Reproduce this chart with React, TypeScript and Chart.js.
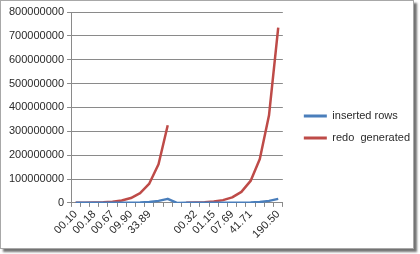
import React, { useEffect, useRef } from 'react';
import { Chart, registerables } from 'chart.js';

Chart.register(...registerables);

// ---- data ----
const categories: string[] = [
  '00.10', '', '00.18', '', '00.67', '', '09.90', '', '33.89', '', '',
  '',
  '', '00.32', '', '01.15', '', '07.69', '', '41.71', '', '', '190.50',
];

const insertedRows: (number | null)[] = [
  16384, 32768, 65536, 131072, 262144, 524288, 1048576, 2097152, 4194304, 8388608, 16777216,
  0,
  16384, 32768, 65536, 131072, 262144, 524288, 1048576, 2097152, 4194304, 8388608, 16777216,
];

const redoGenerated: (number | null)[] = [
  300000, 650000, 1300000, 2500000, 5100000, 10200000, 20300000, 40600000, 81000000, 162000000, 325000000,
  null,
  720000, 1440000, 2900000, 5700000, 11500000, 23000000, 46000000, 92000000, 184000000, 367000000, 735000000,
];

const seriesNames = ['inserted rows', 'redo  generated'];
const seriesColors = ['#4A7EBB', '#BE4B48'];

const yMin = 0;
const yMax = 800000000;
const yStep = 100000000;

export default function App() {
  const canvasRef = useRef<HTMLCanvasElement | null>(null);

  useEffect(() => {
    const canvas = canvasRef.current;
    if (!canvas) return;
    const font = { family: '"Liberation Sans", Arial, sans-serif', size: 11 };
    const textColor = '#2a2a2a';
    const gridColor = '#8a8a8a';

    const chart = new Chart(canvas, {
      type: 'line',
      data: {
        labels: categories,
        datasets: [
          {
            label: seriesNames[0],
            data: insertedRows,
            borderColor: seriesColors[0],
            backgroundColor: seriesColors[0],
            borderWidth: 2.5,
            pointRadius: 0,
            tension: 0,
            borderJoinStyle: 'round',
            spanGaps: false,
          },
          {
            label: seriesNames[1],
            data: redoGenerated,
            borderColor: seriesColors[1],
            backgroundColor: seriesColors[1],
            borderWidth: 2.5,
            pointRadius: 0,
            tension: 0,
            borderJoinStyle: 'round',
            spanGaps: false,
          },
        ],
      },
      options: {
        animation: false,
        responsive: false,
        devicePixelRatio: 1,
        layout: { padding: { left: 5, top: 11, right: 0, bottom: 6 } },
        plugins: {
          tooltip: { enabled: false },
          legend: {
            position: 'right',
            maxWidth: 140,
            labels: {
              font,
              color: textColor,
              boxWidth: 23,
              boxHeight: 3,
              padding: 11,
              generateLabels: (ch: any) =>
                Chart.defaults.plugins.legend.labels.generateLabels(ch).map((l: any) => ({
                  ...l,
                  lineWidth: 0,
                  strokeStyle: 'rgba(0,0,0,0)',
                })),
            },
          },
        },
        scales: {
          x: {
            type: 'category',
            offset: true,
            grid: {
              offset: true,
              drawOnChartArea: false,
              drawTicks: true,
              tickLength: 4,
              color: gridColor,
            },
            border: { color: gridColor },
            ticks: {
              autoSkip: false,
              maxRotation: 45,
              minRotation: 45,
              font,
              color: textColor,
              padding: 1,
            },
          },
          y: {
            type: 'linear',
            min: yMin,
            max: yMax,
            grid: { color: gridColor, tickLength: 4 },
            border: { color: gridColor },
            ticks: {
              stepSize: yStep,
              font,
              color: textColor,
              padding: 3,
              callback: (v: any) => String(v),
            },
          },
          spacer: {
            type: 'linear',
            position: 'right',
            display: true,
            grid: { display: false, drawTicks: false },
            border: { display: false },
            ticks: { display: false },
            afterFit: (s: any) => {
              s.width = 10;
            },
          },
        },
      },
    });
    return () => chart.destroy();
  }, []);

  return (
    <div style={{ position: 'fixed', left: 0, top: 0, width: 420, height: 254, background: '#fff' }}>
      <div
        style={{
          position: 'absolute',
          left: 0,
          top: 0,
          width: 412,
          height: 247,
          border: '1px solid #a8a8a8',
          background: '#fff',
          boxShadow: '3px 3px 2px rgba(0,0,0,0.55)',
        }}
      />
      <canvas
        ref={canvasRef}
        width={419}
        height={247}
        style={{ position: 'absolute', left: 1, top: 1, width: 419, height: 247 }}
      />
    </div>
  );
}
